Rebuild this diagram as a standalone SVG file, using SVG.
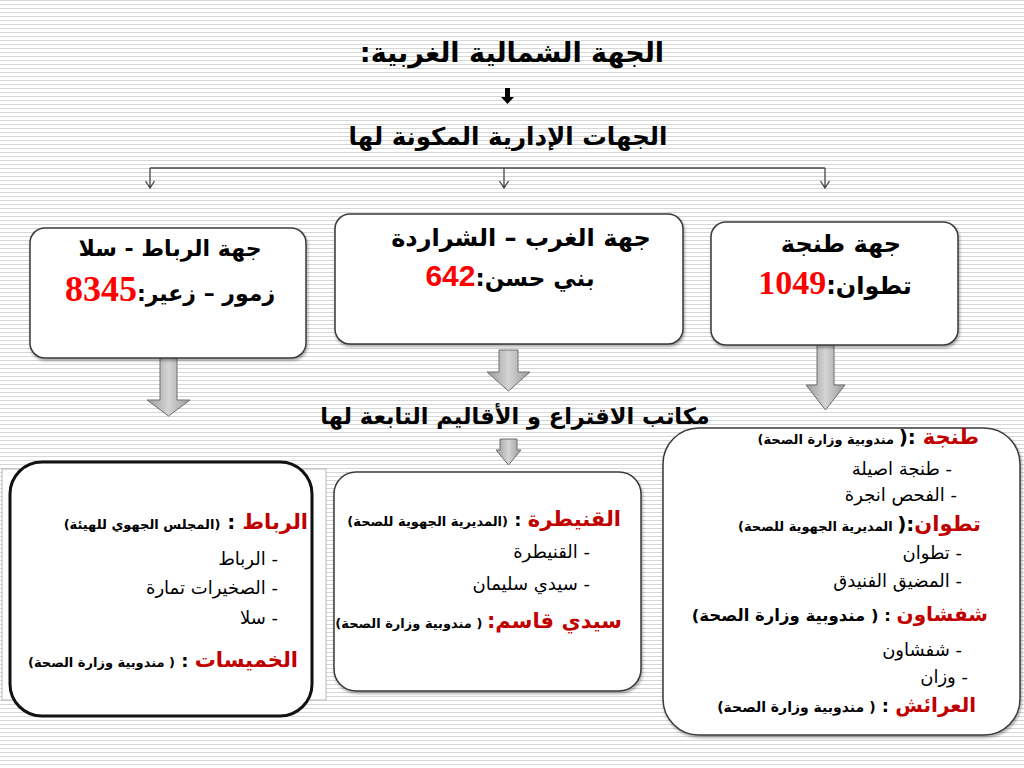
<svg xmlns="http://www.w3.org/2000/svg" width="1024" height="768" viewBox="0 0 1024 768">
<defs>
<pattern id="bg" width="8" height="4" patternUnits="userSpaceOnUse">
<rect width="8" height="4" fill="#ffffff"/>
<line x1="0" y1="0.5" x2="8" y2="0.5" stroke="#d6d6d6" stroke-width="1"/>
</pattern>
<linearGradient id="ag" x1="0" y1="0" x2="1" y2="0">
<stop offset="0" stop-color="#9a9a9a"/>
<stop offset="0.5" stop-color="#d4d4d4"/>
<stop offset="1" stop-color="#9a9a9a"/>
</linearGradient>
<filter id="sh" x="-10%" y="-10%" width="120%" height="130%">
<feDropShadow dx="1" dy="2" stdDeviation="1.5" flood-color="#000" flood-opacity="0.35"/>
</filter>
</defs>
<style>
text{font-family:"DejaVu Sans","Noto Sans",sans-serif;fill:#000}
.h{font-weight:bold}
.rtl{direction:rtl;unicode-bidi:embed}
.box{fill:#fff;stroke:#3a3a3a;stroke-width:1.5}
.bbox{fill:#fff;stroke:#111;stroke-width:3}
.red{fill:#ff0000}
.dred{fill:#c00000;font-weight:bold}
.sm{font-weight:bold}
.it{font-size:18px}
.blk{fill:url(#ag);stroke:#6e6e6e;stroke-width:1}
.conn{stroke:#444;stroke-width:1.3;fill:none}
</style>
<rect width="1024" height="768" fill="url(#bg)"/>

<g id="title">
<text class="h rtl" x="512" y="62" text-anchor="middle" font-size="27">الجهة الشمالية الغربية:</text>
<path d="M505,88 H510 V97 H514 L507.5,104 L501,97 H505 Z" fill="#000"/>
<text class="h rtl" x="508" y="145" text-anchor="middle" font-size="24.5">الجهات الإدارية المكونة لها</text>
</g>

<g id="connectors">
<path class="conn" d="M150,168 H825"/>
<path class="conn" d="M150,168 V188 M145.5,181 L150,188 L154.5,181"/>
<path class="conn" d="M504,168 V188 M499.5,181 L504,188 L508.5,181"/>
<path class="conn" d="M825,168 V188 M820.5,181 L825,188 L829.5,181"/>
<path class="blk" d="M160,350 H177 V400 H190 L168.5,416 L147,400 H160 Z"/>
<path class="blk" d="M499,350 H518 V372 H530 L508.5,391 L487,372 H499 Z"/>
<path class="blk" d="M817,343 H834 V385 H845 L825.5,410 L806,385 H817 Z"/>
<path class="blk" d="M500,439 H517 V450 H521 L508.5,465 L496,450 H500 Z"/>
</g>

<g id="n-rabat">
<rect class="box" x="30" y="228" width="276" height="130" rx="15" filter="url(#sh)"/>
<text class="h rtl" x="170" y="256" text-anchor="middle" font-size="22">جهة الرباط - سلا</text>
<text class="h rtl" x="170" y="301" text-anchor="middle" font-size="22">زمور – زعير:<tspan class="red" font-family="Liberation Serif, serif" font-size="36">8345</tspan></text>
</g>

<g id="n-gharb">
<rect class="box" x="335" y="214" width="348" height="130" rx="15" filter="url(#sh)"/>
<text class="h rtl" x="521" y="246" text-anchor="middle" font-size="24">جهة الغرب – الشراردة</text>
<text class="h rtl" x="510" y="286" text-anchor="middle" font-size="23">بني حسن:<tspan class="red" font-family="Liberation Sans, sans-serif" font-size="30">642</tspan></text>
</g>

<g id="n-tanger">
<rect class="box" x="711" y="222" width="247" height="123" rx="15" filter="url(#sh)"/>
<text class="h rtl" x="841" y="252" text-anchor="middle" font-size="24">جهة طنجة</text>
<text class="h rtl" x="835" y="294" text-anchor="middle" font-size="24">تطوان:<tspan class="red" font-family="Liberation Serif, serif" font-size="34">1049</tspan></text>
</g>

<g id="subtitle">
<text class="h rtl" x="515" y="424" text-anchor="middle" font-size="22.5">مكاتب الاقتراع و الأقاليم التابعة لها</text>
</g>

<g id="b-rabat">
<rect x="2" y="469" width="324" height="231" fill="#fff" stroke="#b8b8b8" stroke-width="1"/>
<rect class="bbox" x="10" y="462" width="302" height="254" rx="32"/>
<text class="rtl" x="308" y="529" text-anchor="start"><tspan class="dred" font-size="21">الرباط</tspan><tspan class="sm" font-size="20"> : </tspan><tspan class="sm" font-size="13">(المجلس الجهوي للهيئة)</tspan></text>
<text class="rtl it" x="278" y="565" text-anchor="start">- الرباط</text>
<text class="rtl it" x="278" y="594" text-anchor="start">- الصخيرات تمارة</text>
<text class="rtl it" x="278" y="624" text-anchor="start">- سلا</text>
<text class="rtl" x="298" y="667" text-anchor="start"><tspan class="dred" font-size="21">الخميسات</tspan><tspan class="sm" font-size="18"> : </tspan><tspan class="sm" font-size="13">( مندوبية وزارة الصحة)</tspan></text>
</g>

<g id="b-kenitra">
<rect class="box" x="334" y="472" width="307" height="219" rx="22" filter="url(#sh)"/>
<text class="rtl" x="621" y="526" text-anchor="start"><tspan class="dred" font-size="21">القنيطرة</tspan><tspan class="sm" font-size="18"> : </tspan><tspan class="sm" font-size="13">(المديرية الجهوية للصحة)</tspan></text>
<text class="rtl it" x="590" y="558" text-anchor="start">- القنيطرة</text>
<text class="rtl it" x="590" y="590" text-anchor="start">- سيدي سليمان</text>
<text class="rtl" x="622" y="628" text-anchor="start"><tspan class="dred" font-size="21">سيدي قاسم:</tspan><tspan class="sm" font-size="13"> ( مندوبية وزارة الصحة)</tspan></text>
</g>

<g id="b-tanger">
<rect class="box" x="663" y="428" width="357" height="307" rx="36" stroke-width="2" filter="url(#sh)"/>
<text class="rtl" x="979" y="444" text-anchor="start"><tspan class="dred" font-size="21">طنجة</tspan><tspan class="sm" font-size="20"> :(</tspan><tspan class="sm" font-size="13"> مندوبية وزارة الصحة)</tspan></text>
<text class="rtl it" x="952" y="475" text-anchor="start">- طنجة اصيلة</text>
<text class="rtl it" x="957" y="501" text-anchor="start">- الفحص انجرة</text>
<text class="rtl" x="981" y="531" text-anchor="start"><tspan class="dred" font-size="21">تطوان</tspan><tspan class="sm" font-size="20">:(</tspan><tspan class="sm" font-size="13"> المديرية الجهوية للصحة)</tspan></text>
<text class="rtl it" x="962" y="559" text-anchor="start">- تطوان</text>
<text class="rtl it" x="962" y="587" text-anchor="start">- المضيق الفنيدق</text>
<text class="rtl" x="988" y="621" text-anchor="start"><tspan class="dred" font-size="20">شفشاون</tspan><tspan class="sm" font-size="16.5"> : ( مندوبية وزارة الصحة)</tspan></text>
<text class="rtl it" x="962" y="656" text-anchor="start">- شفشاون</text>
<text class="rtl it" x="968" y="683" text-anchor="start">- وزان</text>
<text class="rtl" x="976" y="712" text-anchor="start"><tspan class="dred" font-size="20">العرائش</tspan><tspan class="sm" font-size="18"> : </tspan><tspan class="sm" font-size="14">( مندوبية وزارة الصحة)</tspan></text>
</g>
</svg>
